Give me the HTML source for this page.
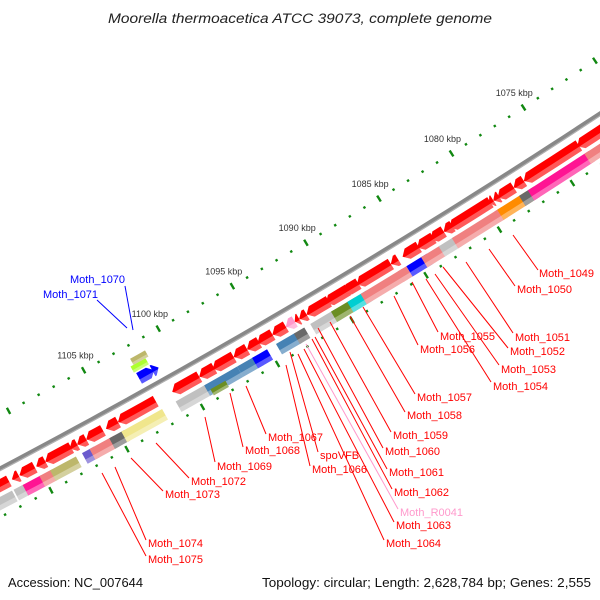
<!DOCTYPE html>
<html><head><meta charset="utf-8"><style>
html,body{margin:0;padding:0;background:#fff;}
svg{display:block;font-family:"Liberation Sans",sans-serif;}
</style></head><body>
<svg id="map" width="600" height="600" viewBox="0 0 600 600" xmlns="http://www.w3.org/2000/svg">
<rect width="600" height="600" fill="#fff"/>
<g id="rings"></g>
<g id="labels" font-size="11">
<g stroke="#ff0000" stroke-width="1" fill="none">
<line x1="513" y1="235" x2="538" y2="270"/><line x1="489" y1="249" x2="515" y2="286"/>
<line x1="466" y1="262" x2="513" y2="333"/><line x1="443" y1="267" x2="508" y2="348"/>
<line x1="435" y1="274" x2="499" y2="365"/><line x1="426" y1="279" x2="491" y2="382"/>
<line x1="412" y1="282" x2="438" y2="332"/><line x1="394" y1="296" x2="418" y2="345"/>
<line x1="363" y1="307" x2="415" y2="394"/><line x1="350" y1="316" x2="405" y2="412"/>
<line x1="330" y1="322" x2="391" y2="432"/><line x1="318" y1="328" x2="383" y2="448"/>
<line x1="315" y1="337" x2="387" y2="469"/><line x1="312" y1="339" x2="392" y2="489"/>
<line x1="304" y1="349" x2="394" y2="522"/><line x1="298" y1="354" x2="384" y2="540"/>
<line x1="286" y1="365" x2="310" y2="466"/><line x1="290" y1="352" x2="318" y2="452"/>
<line x1="246" y1="386" x2="266" y2="434"/><line x1="230" y1="393" x2="243" y2="447"/>
<line x1="205" y1="417" x2="215" y2="462"/><line x1="156" y1="443" x2="189" y2="478"/>
<line x1="131" y1="458" x2="163" y2="491"/><line x1="115" y1="467" x2="146" y2="540"/>
<line x1="102" y1="473" x2="146" y2="556"/>
</g>
<line x1="306" y1="344" x2="398" y2="509" stroke="#ff99cc"/>
<line x1="125" y1="286" x2="133" y2="330" stroke="#0000ff"/>
<line x1="97" y1="300" x2="127" y2="328" stroke="#0000ff"/>
<g fill="#ff0000">
<text x="539" y="277">Moth_1049</text>
<text x="517" y="293">Moth_1050</text>
<text x="515" y="341">Moth_1051</text>
<text x="510" y="355">Moth_1052</text>
<text x="501" y="373">Moth_1053</text>
<text x="493" y="390">Moth_1054</text>
<text x="440" y="340">Moth_1055</text>
<text x="420" y="353">Moth_1056</text>
<text x="417" y="401">Moth_1057</text>
<text x="407" y="419">Moth_1058</text>
<text x="393" y="439">Moth_1059</text>
<text x="385" y="455">Moth_1060</text>
<text x="389" y="476">Moth_1061</text>
<text x="394" y="496">Moth_1062</text>
<text x="396" y="529">Moth_1063</text>
<text x="386" y="547">Moth_1064</text>
<text x="312" y="473">Moth_1066</text>
<text x="320" y="459">spoVFB</text>
<text x="268" y="441">Moth_1067</text>
<text x="245" y="454">Moth_1068</text>
<text x="217" y="470">Moth_1069</text>
<text x="191" y="485">Moth_1072</text>
<text x="165" y="498">Moth_1073</text>
<text x="148" y="547">Moth_1074</text>
<text x="148" y="563">Moth_1075</text>
</g>
<text x="400" y="516" fill="#ff99cc">Moth_R0041</text>
<text x="70" y="283" fill="#0000ff">Moth_1070</text>
<text x="43" y="298" fill="#0000ff">Moth_1071</text>
</g>
<text x="300" y="23" text-anchor="middle" font-size="13.5" font-style="italic" fill="#222" textLength="384" lengthAdjust="spacingAndGlyphs">Moorella thermoacetica ATCC 39073, complete genome</text>
<text x="8" y="587" font-size="13" fill="#111" textLength="135" lengthAdjust="spacingAndGlyphs">Accession: NC_007644</text>
<text x="591" y="587" font-size="13" fill="#111" text-anchor="end" textLength="329" lengthAdjust="spacingAndGlyphs">Topology: circular; Length: 2,628,784 bp; Genes: 2,555</text>
</svg>
<script>
// ---- data (kbp) ----
const cdsStart = [1111.9,1111.25,1110.2,1109.5,1107.8,1107.4,1106.8,1105.7,1104.7,1102.2,1099.3,1098.3,1097.0,1096.1,1095.3,1094.4,1093.5,1092.9,1092.6,1092.1,1090.6,1089.3,1088.6,1086.4,1085.9,1084.5,1083.5,1082.8,1082.2,1079.6,1079.4,1079.0,1078.0,1077.3,1073.5,1071.0];
const cdsEnd   = [1114.0,1111.7,1111.2,1110.1,1109.5,1107.9,1107.4,1106.8,1105.5,1104.7,1101.1,1099.3,1098.4,1097.0,1096.1,1095.4,1094.4,1093.5,1092.9,1092.6,1092.1,1090.8,1089.6,1088.7,1086.4,1085.6,1084.6,1083.7,1082.8,1082.4,1079.7,1079.4,1079.1,1078.0,1077.3,1073.6];
const cdsColor = ["#ff0000","#ff0000","#ff0000","#ff0000","#ff0000","#ff0000","#ff0000","#ff0000","#ff0000","#ff0000","#ff0000","#ff0000","#ff0000","#ff0000","#ff0000","#ff0000","#ff0000","#ff99cc","#ff0000","#ff0000","#ff0000","#ff0000","#ff0000","#ff0000","#ff0000","#ff0000","#ff0000","#ff0000","#ff0000","#ff0000","#ff0000","#ff0000","#ff0000","#ff0000","#ff0000","#ff0000"];
const cogStart = [1112.0,1111.25,1110.1,1109.4,1107.8,1106.6,1105.3,1104.6,1102.1,1099.1,1097.1,1095.7,1095.1,1093.2,1092.6,1090.5,1089.2,1088.4,1086.0,1085.7,1084.3,1083.4,1082.3,1079.5,1079.2,1077.5,1077.0,1073.2,1071.0];
const cogEnd   = [1114.0,1111.9,1111.3,1110.2,1109.5,1107.4,1106.9,1105.6,1104.8,1101.2,1099.3,1097.1,1096.1,1094.5,1093.3,1092.2,1090.8,1089.7,1088.8,1086.3,1085.7,1084.7,1083.5,1082.6,1079.7,1079.5,1078.0,1077.4,1073.5];
const cogColor = ["#c0c0c0","#c0c0c0","#ff1493","#f08080","#bdb76b","#6a5acd","#f08080","#696969","#f0e68c","#c0c0c0","#4682b4","#4682b4","#0000ff","#4682b4","#696969","#c0c0c0","#6b8e23","#00ced1","#f08080","#f08080","#0000ff","#f08080","#c0c0c0","#f08080","#f08080","#ff8c00","#696969","#ff1493","#f08080"];
const revStart = [1101.4,1101.1];
const revEnd   = [1102.4,1101.5];
const tickMin = 1055, tickMax = 1125;
const labelMin = 1075, labelMax = 1105;
const GENOME = 2628.784;

const CX=-3359, CY=-5893;
const R_TICK=7147, R_BB=7194, R_CDS=7209, R_COG=7225, R_OUT=7237, R_REV=7181;
const NS="http://www.w3.org/2000/svg";
const g=document.getElementById('rings');
function ang(p){return (149.15+(p-1090)*360/GENOME)*Math.PI/180;}
function pt(p,r){const a=ang(p);return [CX+r*Math.sin(a), CY-r*Math.cos(a)];}
function poly(pts,fill,op,name){
  const e=document.createElementNS(NS,'polygon');
  e.setAttribute('points',pts.map(q=>q[0].toFixed(2)+','+q[1].toFixed(2)).join(' '));
  e.setAttribute('fill',fill);
  if(op!==undefined) e.setAttribute('fill-opacity',op);
  
  
  g.appendChild(e); return e;
}
function arc(p1,p2,r){const a=[];const n=Math.max(2,Math.ceil((p2-p1)/1));for(let i=0;i<=n;i++)a.push(pt(p1+(p2-p1)*i/n,r));return a;}
(function(){
  const l=document.createElementNS(NS,'polyline');
  l.setAttribute('points',arc(tickMin,tickMax,R_BB).map(q=>q.join(',')).join(' '));
  l.setAttribute('fill','none');l.setAttribute('stroke','#888');l.setAttribute('stroke-width','4.5');
  
  
  g.appendChild(l);
  const l2=document.createElementNS(NS,'polyline');
  l2.setAttribute('points',arc(tickMin,tickMax,R_BB+1.8).map(q=>q.join(',')).join(' '));
  l2.setAttribute('fill','none');l2.setAttribute('stroke','#b0b0b0');l2.setAttribute('stroke-width','1.2');
  
  
  g.appendChild(l2);
})();
function tickRing(r,name){
  for(let p=tickMin;p<=tickMax;p++){
    const major=p%5===0;
    const len=major?7:2.4;
    const a=pt(p,r-len/2), b=pt(p,r+len/2);
    const l=document.createElementNS(NS,'line');
    l.setAttribute('x1',a[0]);l.setAttribute('y1',a[1]);l.setAttribute('x2',b[0]);l.setAttribute('y2',b[1]);
    l.setAttribute('stroke','#118811');l.setAttribute('stroke-width',2.4);
    
    
    g.appendChild(l);
    if(major && name==='kbp-tick' && p>=labelMin && p<=labelMax){
      const c=pt(p,r-17);
      const t=document.createElementNS(NS,'text');
      t.setAttribute('x',c[0]);t.setAttribute('y',c[1]+3);
      t.setAttribute('text-anchor','middle');t.setAttribute('font-size','9');t.setAttribute('fill','#333');
      t.textContent=p+' kbp';
      
      
      g.appendChild(t);
    }
  }
}
tickRing(R_TICK,'kbp-tick');
tickRing(R_OUT,'outer-tick');
function feature(p1,p2,r,h,color,dir,name){
  const px=17.2*r/7147; let hl=dir?6/px:0; hl=Math.min(hl,(p2-p1)*0.8);
  let pts, lite;
  if(dir===1){
    const b=p2-hl;
    pts=[...arc(p1,b,r-h),pt(p2,r),...arc(p1,b,r+h).reverse()];
    lite=[...arc(p1,b,r+h),pt(b+0.8*hl,r+0.2*h),pt(p1,r+0.2*h)];
  }else if(dir===-1){
    const b=p1+hl;
    pts=[pt(p1,r),...arc(b,p2,r-h),...arc(b,p2,r+h).reverse()];
    lite=[...arc(b,p2,r+h),pt(p2,r+0.2*h),pt(b-0.8*hl,r+0.2*h)];
  }else{
    pts=[...arc(p1,p2,r-h),...arc(p1,p2,r+h).reverse()];
    lite=[...arc(p1,p2,r+h),...arc(p1,p2,r+0.2*h).reverse()];
  }
  poly(pts,color,undefined,name);
  poly(lite,'#ffffff',0.35,name+'-shade');
}
for(let i=0;i<cdsStart.length;i++) feature(cdsStart[i],cdsEnd[i],R_CDS,6,cdsColor[i],1,'cds-arrow');
for(let i=0;i<cogStart.length;i++) feature(cogStart[i],cogEnd[i],R_COG,6,cogColor[i],0,'cog-block');
feature(1098.1,1099.1,R_COG+4,3.5,'#6b8e23',0,'cog-block-olive');
for(let i=0;i<revStart.length;i++) feature(revStart[i],revEnd[i],R_REV,6,'#0000ff',-1,'reverse-arrow');
feature(1101.5,1102.5,R_BB-24,3.5,'#adff2f',0,'reverse-cog-yellowgreen');
feature(1101.3,1102.3,R_BB-31,3.5,'#bdb76b',0,'reverse-cog-khaki');
</script>
</body></html>
